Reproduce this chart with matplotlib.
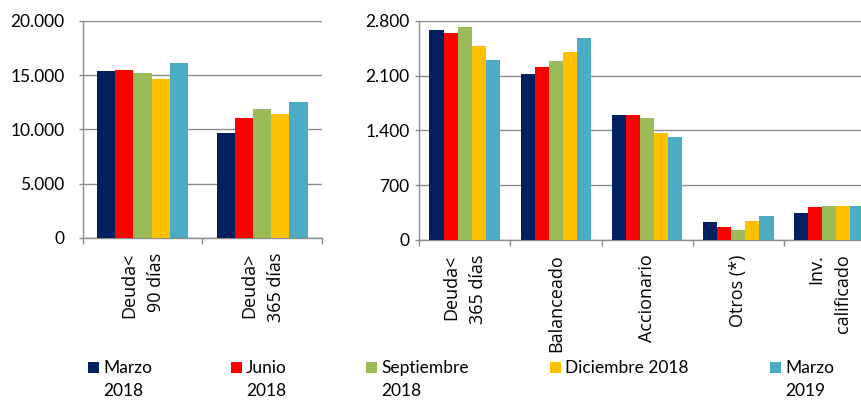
import matplotlib
matplotlib.use("Agg")
import matplotlib.pyplot as plt
from matplotlib.patches import Rectangle
from matplotlib.ticker import FuncFormatter, MultipleLocator
import numpy as np

plt.rcParams['font.family'] = ['Lato', 'DejaVu Sans']

series = ["Marzo\n2018", "Junio\n2018", "Septiembre\n2018", "Diciembre 2018", "Marzo\n2019"]
colors = ["#002060", "#FF0000", "#9BBB59", "#FFC000", "#4BACC6"]

left_cats = ["Deuda<\n90 días", "Deuda>\n365 días"]
left_vals = [
    [15350, 9680],
    [15450, 11030],
    [15180, 11860],
    [14650, 11400],
    [16150, 12500],
]

right_cats = ["Deuda<\n365 días", "Balanceado", "Accionario", "Otros (*)", "Inv.\ncalificado"]
right_vals = [
    [2680, 2120, 1590, 230, 340],
    [2640, 2210, 1590, 170, 417],
    [2715, 2285, 1557, 132, 434],
    [2472, 2400, 1366, 247, 434],
    [2302, 2583, 1315, 302, 434],
]

GRID = "#8C8C8C"
FS = 12.5
W = 862
H = 400


def fmt(v, pos):
    return f"{int(round(v)):,}".replace(",", ".")


def draw(ax, cats, vals, ymax, ystep, group_frac, ypad):
    n = len(vals)
    x = np.arange(len(cats))
    bw = group_frac / n
    for i, (v, c) in enumerate(zip(vals, colors)):
        ax.bar(x - group_frac / 2 + bw * (i + 0.5), v, width=bw, color=c,
               linewidth=0, zorder=3)
    ax.set_xlim(-0.5, len(cats) - 0.5)
    ax.set_ylim(0, ymax)
    ax.yaxis.set_major_locator(MultipleLocator(ystep))
    ax.yaxis.set_major_formatter(FuncFormatter(fmt))
    ax.grid(axis='y', color=GRID, linewidth=1.0, zorder=0)
    ax.set_axisbelow(True)
    for s in ['top', 'right']:
        ax.spines[s].set_visible(False)
    for s in ['left', 'bottom']:
        ax.spines[s].set_color(GRID)
        ax.spines[s].set_linewidth(1.0)
    ax.set_xticks(np.arange(len(cats) + 1) - 0.5)
    ax.set_xticklabels([])
    ax.tick_params(axis='x', length=4, color=GRID, width=1)
    ax.tick_params(axis='y', length=3, color=GRID, width=1, labelsize=FS,
                   pad=ypad, labelcolor='black')
    for xi, lab in zip(x, cats):
        ax.annotate(lab, xy=(xi, 0), xycoords=ax.get_xaxis_transform(),
                    xytext=(0, -10.5), textcoords='offset points',
                    rotation=90, ha='center', va='top', multialignment='right',
                    fontsize=13, fontfamily='Open Sans',
                    linespacing=1.62, annotation_clip=False)


fig = plt.figure(figsize=(W / 100, H / 100), dpi=100)

ax1 = fig.add_axes([82.7 / W, (H - 238) / H, (322 - 82.7) / W, (238 - 20.7) / H])
draw(ax1, left_cats, left_vals, 20000, 5000, 0.76, 10)

ax2 = fig.add_axes([419.3 / W, (H - 240) / H, 455.5 / W, (240 - 20.7) / H])
draw(ax2, right_cats, right_vals, 2800, 700, 0.777, 4)

# legend
mx = [88, 231, 366, 550, 770]
for xm, lab, c in zip(mx, series, colors):
    fig.add_artist(Rectangle((xm / W, (H - 373) / H), 11 / W, 11 / H,
                             transform=fig.transFigure, color=c, linewidth=0))
    for j, line in enumerate(lab.split("\n")):
        fig.text((xm + 15) / W, (H - (368 + 23 * j)) / H, line,
                 fontsize=FS, va='center', ha='left')

fig.savefig("out.png", dpi=100)
